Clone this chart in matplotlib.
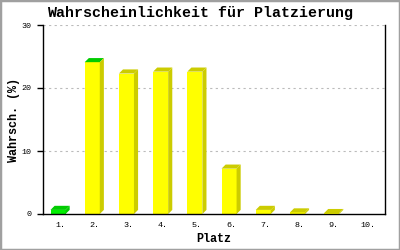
import matplotlib
matplotlib.use("Agg")
import matplotlib.pyplot as plt
from matplotlib.patches import Polygon, Rectangle

places = ["1.", "2.", "3.", "4.", "5.", "6.", "7.", "8.", "9.", "10."]
values = [0.65, 24.1, 22.3, 22.6, 22.6, 7.2, 0.65, 0.25, 0.15, 0.0]
front_colors = ["#00ee00"] + ["#ffff00"] * 9
top_colors = ["#00cc00", "#00cc00"] + ["#cccc00"] * 8
side_colors = ["#00cc00"] + ["#cccc00"] * 9
yticks = [0, 10, 20, 30]

title = "Wahrscheinlichkeit für Platzierung"
xlabel = "Platz"
ylabel = "Wahrsch. (%)"

mono = ["Liberation Mono", "DejaVu Sans Mono"]

fig = plt.figure(figsize=(4, 2.5), dpi=100)
fig.patch.set_facecolor("white")
ax = fig.add_axes([43/400, 36/250, 342/400, 189/250])

x = list(range(1, len(places) + 1))
width = 0.44
off = -0.06
dx = 0.12   # depth in data units (x)
dy = 0.65   # depth in data units (y)

for xi, v, fc, tc, sc in zip(x, values, front_colors, top_colors, side_colors):
    if v <= 0:
        continue
    l = xi + off - width / 2
    r = xi + off + width / 2
    ax.bar(xi + off, v, width=width, color=fc, linewidth=0, zorder=3)
    ax.add_patch(Polygon([(l, v), (l + dx, v + dy), (r + dx, v + dy), (r, v)],
                         closed=True, facecolor=tc, edgecolor="none", zorder=3))
    ax.add_patch(Polygon([(r, 0), (r, v), (r + dx, v + dy), (r + dx, dy)],
                         closed=True, facecolor=sc, edgecolor="none", zorder=3))

ax.set_xlim(0.5, len(places) + 0.5)
ax.set_ylim(0, 30)
ax.set_yticks(yticks)
ax.set_yticklabels([str(t) for t in yticks], family=mono, fontsize=6)
ax.set_xticks(x)
ax.set_xticklabels(places, family=mono, fontsize=6)
ax.tick_params(axis="x", length=0, pad=6)
ax.tick_params(axis="y", length=4, width=1, pad=4.5, color="black")

for t in [10, 20, 30]:
    ax.axhline(t, color="#bbbbbb", linewidth=0.8, linestyle=(0, (2, 3)), zorder=1)

ax.spines["top"].set_visible(False)
for s in ["left", "bottom", "right"]:
    ax.spines[s].set_color("black")
    ax.spines[s].set_linewidth(1.0)
ax.spines["left"].set_zorder(4)
ax.spines["bottom"].set_zorder(4)

ax.set_xlabel(xlabel, family=mono, fontsize=8.5, fontweight="bold", labelpad=3)
ax.set_ylabel(ylabel, family=mono, fontsize=8.5, fontweight="bold", labelpad=1)
fig.text(0.5, 1 - 13/250, title, family=mono, fontsize=10.8, fontweight="bold",
         ha="center", va="center")

fig.patches.append(Rectangle((0, 0), 1, 1, transform=fig.transFigure, fill=False,
                             edgecolor="#a0a0a0", linewidth=2.5, zorder=10))

fig.savefig("out.png", dpi=100, facecolor="white")
